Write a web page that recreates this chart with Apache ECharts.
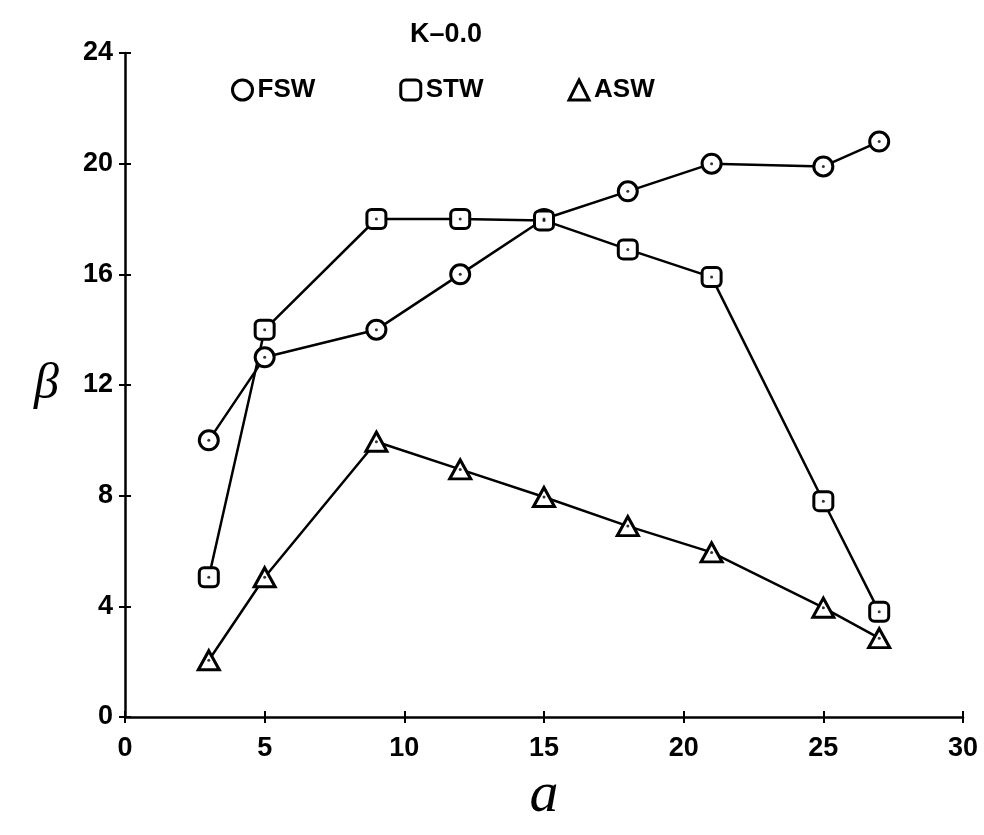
<!DOCTYPE html>
<html>
<head>
<meta charset="utf-8">
<script src="https://cdn.jsdelivr.net/npm/echarts@6/dist/echarts.min.js"></script>
<style>
html,body{margin:0;padding:0;background:#fff;}
#chart{width:984px;height:835px;}
</style>
</head>
<body>
<div id="chart"></div>
<script>
// Data
var xTicks = [0, 5, 10, 15, 20, 25, 30];
var yTicks = [0, 4, 8, 12, 16, 20, 24];
var fswX = [3, 5, 9, 12, 15, 18, 21, 25, 27];
var fswY = [10, 13, 14, 16, 18, 19, 20, 19.9, 20.8];
var stwX = [3, 5, 9, 12, 15, 18, 21, 25, 27];
var stwY = [5.05, 14, 18, 18, 17.95, 16.9, 15.9, 7.8, 3.8];
var aswX = [3, 5, 9, 12, 15, 18, 21, 25, 27];
var aswY = [2.05, 5.05, 9.95, 8.95, 7.95, 6.9, 5.95, 3.95, 2.85];
var titleText = 'K\u20130.0';
var seriesNames = ['FSW', 'STW', 'ASW'];

function pairs(xs, ys) { return xs.map(function (x, i) { return [x, ys[i]]; }); }

var FONT = '"Liberation Sans", Arial, Helvetica, sans-serif';
var chart = echarts.init(document.getElementById('chart'), null, {renderer: 'canvas'});

var gridPos = {left: 125, right: 21, top: 53, bottom: 118};
var hollow = {color: '#fff', borderColor: '#000', borderWidth: 3};

function mkLine(name, data, symbol, size) {
  return {
    name: name, type: 'line', data: data, xAxisIndex: 0, yAxisIndex: 0,
    symbol: symbol, symbolSize: size, showAllSymbol: true,
    lineStyle: {color: '#000', width: 2.5},
    itemStyle: hollow, z: 3
  };
}
function mkDot(name, data) {
  return {
    name: name, type: 'scatter', data: data, xAxisIndex: 0, yAxisIndex: 0,
    symbol: 'circle', symbolSize: 3, itemStyle: {color: '#000'}, z: 5, silent: true
  };
}

var option = {
  backgroundColor: '#fff',
  animation: false,
  title: {
    text: titleText, left: 441, top: 16, textAlign: 'center',
    textStyle: {fontFamily: FONT, fontWeight: 'bold', fontSize: 27, color: '#000'}
  },
  legend: {
    left: 226, top: 72, itemWidth: 20, itemHeight: 20, itemGap: 84,
    data: [
      {name: seriesNames[0], icon: 'circle'},
      {name: seriesNames[1], icon: 'roundRect'},
      {name: seriesNames[2], icon: 'triangle'}
    ],
    itemStyle: hollow,
    textStyle: {fontFamily: FONT, fontWeight: 'bold', fontSize: 26, color: '#000'}
  },
  grid: [
    Object.assign({containLabel: false}, gridPos),
    Object.assign({containLabel: false}, gridPos)
  ],
  xAxis: [
    {
      type: 'value', gridIndex: 0, min: 0, max: 30, interval: 5,
      name: 'a', nameLocation: 'middle', nameGap: 46,
      nameTextStyle: {fontFamily: '"Liberation Serif", "DejaVu Serif", serif', fontStyle: 'italic', fontSize: 58, color: '#000'},
      axisLine: {show: true, lineStyle: {color: '#000', width: 2.5}},
      axisTick: {show: true, inside: false, length: 6, lineStyle: {color: '#000', width: 2}},
      axisLabel: {margin: 18, fontFamily: FONT, fontWeight: 'bold', fontSize: 27, color: '#000',
        formatter: function (v) { return xTicks.indexOf(v) >= 0 ? String(v) : ''; }},
      splitLine: {show: false}
    },
    {
      type: 'value', gridIndex: 1, min: 0, max: 30, interval: 5,
      axisLine: {show: false},
      axisTick: {show: true, inside: true, length: 6, lineStyle: {color: '#000', width: 2}},
      axisLabel: {show: false}, splitLine: {show: false}
    }
  ],
  yAxis: [
    {
      type: 'value', gridIndex: 0, min: 0, max: 24, interval: 4,
      name: '\u03B2', nameLocation: 'middle', nameRotate: 0, nameGap: 66,
      nameTextStyle: {fontFamily: '"Liberation Serif", "DejaVu Serif", serif', fontStyle: 'italic', fontSize: 50, color: '#000'},
      axisLine: {show: true, lineStyle: {color: '#000', width: 2.5}},
      axisTick: {show: true, inside: false, length: 6, lineStyle: {color: '#000', width: 2}},
      axisLabel: {margin: 12, fontFamily: FONT, fontWeight: 'bold', fontSize: 27, color: '#000',
        formatter: function (v) { return yTicks.indexOf(v) >= 0 ? String(v) : ''; }},
      splitLine: {show: false}
    },
    {
      type: 'value', gridIndex: 1, min: 0, max: 24, interval: 4,
      axisLine: {show: false},
      axisTick: {show: true, inside: true, length: 6, lineStyle: {color: '#000', width: 2}},
      axisLabel: {show: false}, splitLine: {show: false}
    }
  ],
  series: [
    mkLine(seriesNames[0], pairs(fswX, fswY), 'circle', 19),
    mkLine(seriesNames[1], pairs(stwX, stwY), 'roundRect', 19),
    mkLine(seriesNames[2], pairs(aswX, aswY), 'triangle', [21, 19]),
    mkDot('FSW dots', pairs(fswX, fswY)),
    mkDot('STW dots', pairs(stwX, stwY)),
    mkDot('ASW dots', pairs(aswX, aswY))
  ]
};
chart.setOption(option);
</script>
</body>
</html>
